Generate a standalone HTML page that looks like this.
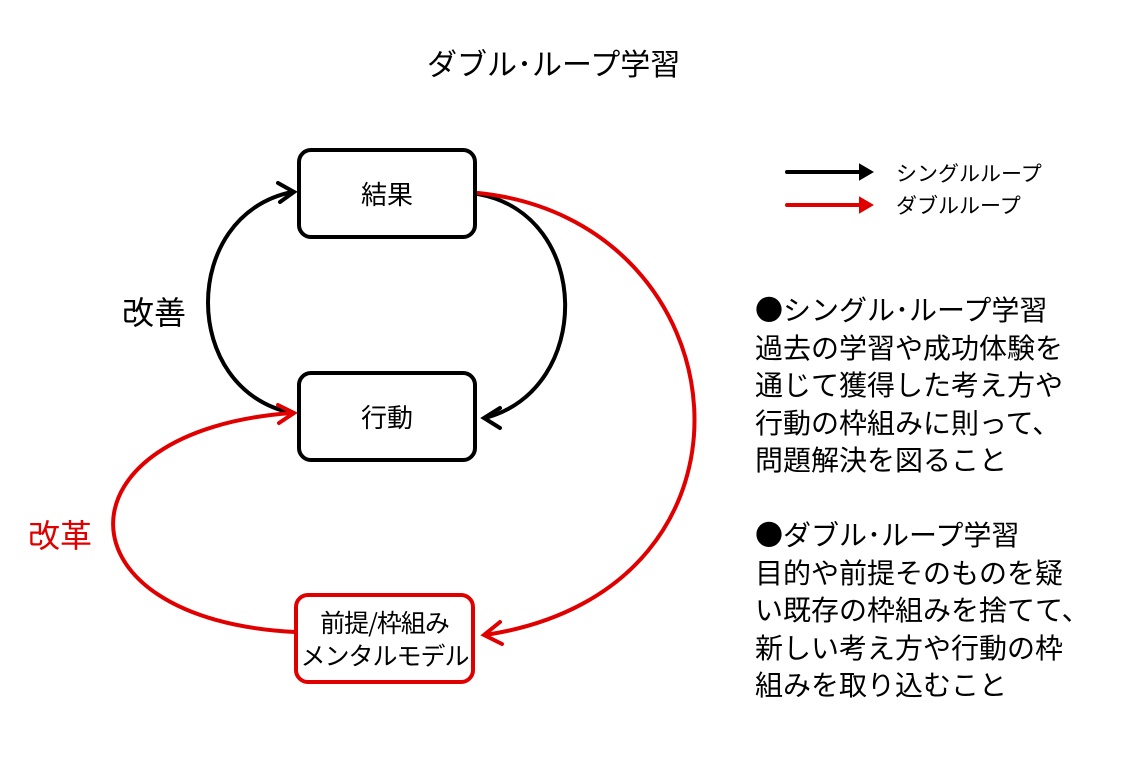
<!DOCTYPE html>
<html><head><meta charset="utf-8"><style>
body{margin:0;width:1126px;height:761px;background:#fff;position:relative;overflow:hidden;font-family:"Liberation Sans","Noto Sans CJK JP",sans-serif;}
.t{position:absolute;white-space:nowrap;color:#000;}
.box{position:absolute;border:4px solid #000;border-radius:14px;background:#fff;box-sizing:border-box;display:flex;align-items:center;justify-content:center;font-size:26px;white-space:nowrap;}
.jp{font-family:"Noto Sans CJK JP",sans-serif;}
</style></head><body>
<div class="t" style="left:427px;top:40px;font-size:30px;">ダブル･ループ学習</div>
<svg width="1126" height="761" style="position:absolute;left:0;top:0">
<g fill="none" stroke-width="4" stroke-linecap="round">
<path d="M292,413 C180,390 180,215 292,192" stroke="#000"/>
<path d="M278,183 L294,192 L280,202" stroke="#000"/>
<path d="M478,194 C593,215 593,390 485,418" stroke="#000"/>
<path d="M500,408 L484,418 L500,428" stroke="#000"/>
<path d="M478,193 C745,220 785,590 485,635" stroke="#e00000"/>
<path d="M500,622 L484,635 L502,644" stroke="#e00000"/>
<path d="M295,632 C53,620 53,430 292,413" stroke="#e00000"/>
<path d="M278,405 L294,413 L279,423" stroke="#e00000"/>
<path d="M787,172 L868,172" stroke="#000"/><path d="M860,165 L872,172 L860,179 Z" fill="#000" stroke="#000" stroke-width="2"/>
<path d="M787,205 L868,205" stroke="#e00000"/><path d="M860,198 L872,205 L860,212 Z" fill="#e00000" stroke="#e00000" stroke-width="2"/>
</g></svg>
<div class="box" style="left:297px;top:148px;width:180px;height:91px;">結果</div>
<div class="box" style="left:297px;top:371px;width:180px;height:91px;">行動</div>
<div class="box jp" style="left:294px;top:593px;width:181px;height:91px;border-color:#e00000;font-size:25px;letter-spacing:-1px;line-height:33px;text-align:center;flex-direction:column;">前提/枠組み<br>メンタルモデル</div>
<div class="t" style="left:122px;top:288px;font-size:32px;">改善</div>
<div class="t" style="left:28px;top:511px;font-size:32px;color:#e00000;">改革</div>
<div class="t" style="left:896px;top:158px;font-size:21px;">シングルループ</div>
<div class="t" style="left:896px;top:190px;font-size:21px;">ダブルループ</div>
<div class="t jp" style="left:755px;top:291px;font-size:28px;line-height:37.5px;">●シングル･ループ学習<br>過去の学習や成功体験を<br>通じて獲得した考え方や<br>行動の枠組みに則って、<br>問題解決を図ること<br>&nbsp;<br>●ダブル･ループ学習<br>目的や前提そのものを疑<br>い既存の枠組みを捨てて、<br>新しい考え方や行動の枠<br>組みを取り込むこと</div>
</body></html>
